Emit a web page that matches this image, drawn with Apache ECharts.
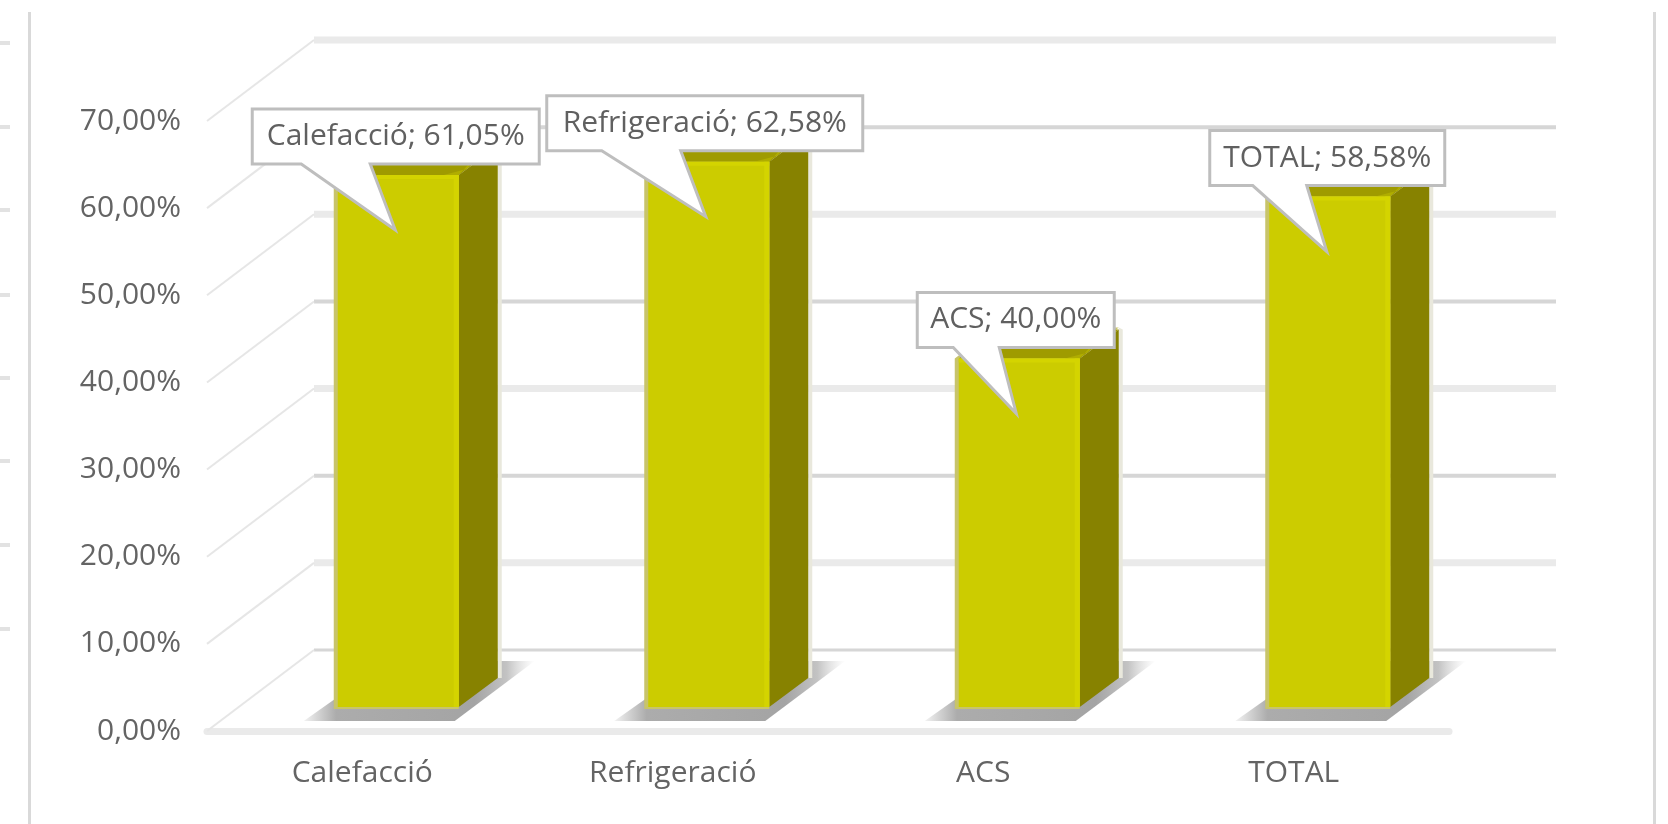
<!DOCTYPE html>
<html>
<head>
<meta charset="utf-8">
<script src="https://cdn.jsdelivr.net/npm/echarts@6/dist/echarts.min.js"></script>
<style>
html,body{margin:0;padding:0;background:#fff;overflow:hidden}
#chart{width:1668px;height:824px;filter:blur(0.6px)}
</style>
</head>
<body>
<div id="chart"></div>
<script>
// ---- data ----
const categories = ['Calefacció', 'Refrigeració', 'ACS', 'TOTAL'];
const values = [61.05, 62.58, 40.00, 58.58];
const tickValues = [0, 10, 20, 30, 40, 50, 60, 70];

// ---- layout and style of the pseudo-3D drawing (pixels, not data) ----
const calloutLayout = [
  {left: -143, width: 287, tailL: -94, tailR: -25},
  {left: -159, width: 316, tailL: -104, tailR: -25},
  {left: -99,  width: 197, tailL: -63, tailR: -17},
  {left: -117, width: 235, tailL: -74, tailR: -20}
];
const wallWidths = [3, 7, 4, 7, 4, 7, 4, 7];
const wallColors = ['#d6d6d6', '#eaeaea', '#d6d6d6', '#eaeaea', '#d6d6d6', '#eaeaea', '#d6d6d6', '#eaeaea'];
const WALL_DX = 107, WALL_DY = -81;
const BAR_DX = 36, BAR_DY = -24, BAR_W = 121, SIDE_DX = 39, SIDE_DY = -29;
const fmt = v => v.toFixed(2).replace('.', ',') + '%';
const FONT = 'Open Sans';

function poly(points, fill, extra) {
  return {type: 'polygon', shape: {points}, style: Object.assign({fill}, extra || {})};
}

function renderWall(params, api) {
  const i = params.dataIndex, v = api.value(1);
  const p = api.coord([0, v]);
  const cs = params.coordSys;
  const x0 = cs.x, y0 = p[1];
  const bx = x0 + WALL_DX, by = y0 + WALL_DY;
  return {type: 'group', children: [
    {type: 'line', shape: {x1: bx, y1: by, x2: bx + cs.width, y2: by},
      style: {stroke: wallColors[i], lineWidth: wallWidths[i]}},
    {type: 'line', shape: {x1: x0, y1: y0, x2: bx, y2: by},
      style: {stroke: '#e6e6e6', lineWidth: 2}}
  ]};
}

function renderShadow(params, api) {
  const c = api.coord([api.value(0), 0]);
  const cx = c[0] + BAR_DX, b = c[1] + BAR_DY;
  const l = cx - BAR_W / 2, r = cx + BAR_W / 2;
  const fade = new echarts.graphic.LinearGradient(0, 0, 1, 0, [
    {offset: 0, color: 'rgba(172,172,172,0.15)'},
    {offset: 0.14, color: '#acacac'},
    {offset: 0.74, color: '#a4a4a4'},
    {offset: 0.88, color: 'rgba(170,170,170,0.7)'},
    {offset: 1, color: 'rgba(200,200,200,0)'}
  ]);
  return poly([[l - 34, b + 14], [r - 4, b + 14], [r + 76, b - 46], [r, b - 46], [l, b - 10]], fade);
}

function renderBar(params, api) {
  const idx = api.value(0);
  const base = api.coord([idx, 0]), top = api.coord([idx, api.value(1)]);
  const cx = base[0] + BAR_DX, b = base[1] + BAR_DY, t = top[1] + BAR_DY;
  const l = cx - BAR_W / 2, r = cx + BAR_W / 2;
  const sr = r + SIDE_DX, st = t + SIDE_DY, sb = b + SIDE_DY;
  return {type: 'group', children: [
    poly([[sr, st - 2], [sr + 4, st], [sr + 4, sb], [sr, sb]], '#e9e8dc'),
    poly([[l - 4, t], [l + SIDE_DX - 2, st - 2], [sr, st - 2], [r, t], [r, b + 2], [l - 4, b + 2]], '#c8c46a'),
    poly([[l, t], [l + SIDE_DX, st], [sr, st], [r, t]], '#9f9b00'),
    poly([[r - 15, t], [r + 8, t - 6], [r + 22, st + 5], [r, t]], '#b0ad00'),
    poly([[r, t], [sr, st], [sr, sb], [r, b]], '#878200'),
    {type: 'rect', shape: {x: l, y: t, width: r - l, height: b - t}, style: {fill: '#cccc00'}},
    {type: 'rect', shape: {x: l, y: t, width: r - l, height: 4}, style: {fill: '#d4d400'}},
    {type: 'rect', shape: {x: r - 5, y: t, width: 5, height: b - t}, style: {fill: '#d4d400'}}
  ]};
}

function renderCallout(params, api) {
  const idx = api.value(0), val = api.value(1);
  const base = api.coord([idx, 0]), top = api.coord([idx, val]);
  const L = calloutLayout[idx];
  const tx = base[0] + BAR_DX - 3, ty = top[1] + BAR_DY + 55;
  const bt = ty - 121, bb = bt + 55;
  const bl = tx + L.left, br = bl + L.width;
  return {type: 'group', children: [
    poly([[bl, bt], [br, bt], [br, bb], [tx + L.tailR, bb], [tx, ty], [tx + L.tailL, bb], [bl, bb]],
      '#ffffff', {stroke: '#bebebe', lineWidth: 3, lineJoin: 'miter'}),
    {type: 'text', x: (bl + br) / 2, y: (bt + bb) / 2,
      style: {text: categories[idx] + '; ' + fmt(val), fill: '#606060',
        font: '30px "' + FONT + '"', align: 'center', verticalAlign: 'middle'}}
  ]};
}

const barData = values.map((v, i) => [i, v]);
const stubYs = [43, 127, 210, 295, 378, 461, 545, 629];
const frame = [
  {type: 'rect', silent: true, shape: {x: 28, y: 12, width: 3, height: 812}, style: {fill: '#d9d9d9'}},
  {type: 'rect', silent: true, shape: {x: 1653, y: 12, width: 3, height: 812}, style: {fill: '#d9d9d9'}}
].concat(stubYs.map(y => ({type: 'rect', silent: true,
  shape: {x: 0, y: y - 2, width: 10, height: 4}, style: {fill: '#e2e2e2'}})));

const chart = echarts.init(document.getElementById('chart'), null, {renderer: 'canvas'});
chart.setOption({
  animation: false,
  backgroundColor: '#ffffff',
  graphic: frame,
  grid: {left: 207, top: 121, width: 1242, height: 610, containLabel: false},
  xAxis: {
    type: 'category', data: categories,
    axisTick: {show: false}, axisLine: {show: true, lineStyle: {color: '#eaeaea', width: 7}},
    axisLabel: {color: '#646464', fontFamily: FONT, fontSize: 30, margin: 27}
  },
  yAxis: {
    type: 'value', min: 0, max: 70, interval: 10,
    axisLine: {show: false}, axisTick: {show: false}, splitLine: {show: false},
    axisLabel: {color: '#646464', fontFamily: FONT, fontSize: 30, margin: 26, padding: [5, 0, 0, 0], formatter: fmt}
  },
  series: [
    {type: 'custom', z: 1, renderItem: renderWall, silent: true,
      data: tickValues.map((v, i) => [0, v]), encode: {x: 0, y: 1}},
    {type: 'custom', z: 2, renderItem: renderShadow, silent: true, data: barData, encode: {x: 0, y: 1}},
    {type: 'custom', z: 3, renderItem: renderBar, silent: true, data: barData, encode: {x: 0, y: 1}},
    {type: 'custom', z: 4, renderItem: renderCallout, silent: true, data: barData, encode: {x: 0, y: 1}}
  ]
});
</script>
</body>
</html>
